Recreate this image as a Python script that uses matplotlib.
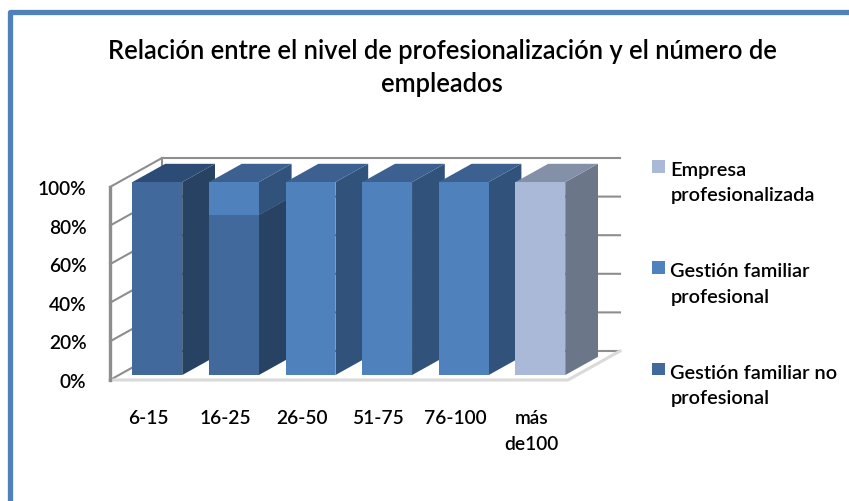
import matplotlib
matplotlib.use("Agg")
import matplotlib.pyplot as plt
from matplotlib.patches import Polygon, Patch, Rectangle
from matplotlib.lines import Line2D
from matplotlib.legend_handler import HandlerPatch

categories = ["6-15", "16-25", "26-50", "51-75", "76-100", "más\nde100"]
no_profesional = [100, 83, 0, 0, 0, 0]
profesional = [0, 17, 100, 100, 100, 0]
profesionalizada = [0, 0, 0, 0, 0, 100]
y_ticks = [0, 20, 40, 60, 80, 100]
title = "Relación entre el nivel de profesionalización y el número de\nempleados"
series = [
    ("Gestión familiar no\nprofesional", no_profesional, "#41699B", "#284263", "#2C4C75"),
    ("Gestión familiar\nprofesional", profesional, "#4F81BD", "#31527A", "#3C6190"),
    ("Empresa\nprofesionalizada", profesionalizada, "#AAB9D8", "#6B7688", "#848FA8"),
]

W, H = 849, 502
plt.rcParams["font.family"] = ["Lato", "DejaVu Sans"]
fig = plt.figure(figsize=(W / 100, H / 100), dpi=100)

# blue frame
frame = "#4F81BD"
fig.add_artist(Line2D([9.5 / W, 9.5 / W, 1], [0, 1 - 12.5 / H, 1 - 12.5 / H],
                      transform=fig.transFigure, color=frame, lw=3.8,
                      solid_joinstyle="round", solid_capstyle="butt"))

# axes = front plane of the 3-D box
L, R, T, B = 110, 568, 188, 381
ax = fig.add_axes([L / W, 1 - B / H, (R - L) / W, (B - T) / H])
PITCH = 76.6
x0 = (148.5 - L) / PITCH
ax.set_xlim(-x0, (R - L) / PITCH - x0)
ax.set_ylim(0, 100)
PXY = (B - T) / 100
DX, DY = 52 / PITCH, 29 / PXY   # full depth of the box in data units


def pr(x, y, d):
    return (x + d * DX, y + d * DY)


def line(pts, color, lw, z=1):
    ax.plot([p[0] for p in pts], [p[1] for p in pts], color=color, lw=lw,
            clip_on=False, zorder=z, solid_capstyle="projecting")


xl, xr = ax.get_xlim()
grid = "#8E8E8E"
for v in y_ticks:
    line([pr(xl, v, 0), pr(xl, v, 1), pr(xr, v, 1)], grid, 1.5)
line([pr(xl, 0, 1), pr(xl, 100, 1)], grid, 1.5)
line([pr(xl, 0, 0), pr(xr, 0, 0), pr(xr, 0, 1)], "#DADADA", 2.2, 1.5)
line([pr(xl, 0, 0), pr(xl, 100, 0)], grid, 2.4, 2)

# stacked 3-D bars, left to right
BW = 0.65
D0, D1 = 0.17, 0.80
z = 3
for i in range(len(categories)):
    base = 0
    for name, vals, front, side, top in series:
        v = vals[i]
        if v == 0:
            continue
        a, b = i - BW / 2, i + BW / 2
        y0, y1 = base, base + v
        ax.add_patch(Polygon([pr(b, y0, D0), pr(b, y0, D1), pr(b, y1, D1), pr(b, y1, D0)],
                             fc=side, ec="none", clip_on=False, zorder=z))
        ax.add_patch(Polygon([pr(a, y1, D0), pr(b, y1, D0), pr(b, y1, D1), pr(a, y1, D1)],
                             fc=top, ec="none", clip_on=False, zorder=z))
        ax.add_patch(Polygon([pr(a, y0, D0), pr(b, y0, D0), pr(b, y1, D0), pr(a, y1, D0)],
                             fc=front, ec="none", clip_on=False, zorder=z + 0.1))
        base = y1
        z += 0.2

for s in ax.spines.values():
    s.set_visible(False)
ax.patch.set_visible(False)
ax.set_xticks(range(len(categories)), categories, fontsize=13.8, linespacing=1.6)
ax.set_yticks(y_ticks, [f"{v}%" for v in y_ticks], fontsize=13.8)
ax.tick_params(length=0, colors="black")
ax.tick_params(axis="x", pad=21)
ax.tick_params(axis="y", pad=17)
for lab in ax.get_xticklabels() + ax.get_yticklabels():
    lab.set_fontweight("semibold")

fig.text(442 / W, 1 - 68 / H, title, ha="center", va="center", fontsize=18.4,
         linespacing=1.42, fontweight="semibold")


def first_line_swatch(legend, orig_handle, xdescent, ydescent, width, height, fontsize):
    return Rectangle((-xdescent, -ydescent + 11.5), width, height)


handles = [Patch(fc=s[2], ec="none", label=s[0]) for s in reversed(series)]
leg = fig.legend(handles=handles, loc="upper left",
                 handler_map={Patch: HandlerPatch(patch_func=first_line_swatch)},
                 bbox_to_anchor=(652 / W, 1 - 162 / H), frameon=False,
                 fontsize=14.4, labelspacing=2.95, handlelength=0.65, handleheight=0.6,
                 handletextpad=0.27, borderpad=0, borderaxespad=0)
for t in leg.get_texts():
    t.set_linespacing(1.6)
    t.set_fontweight("semibold")

fig.savefig("out.png", dpi=100)
